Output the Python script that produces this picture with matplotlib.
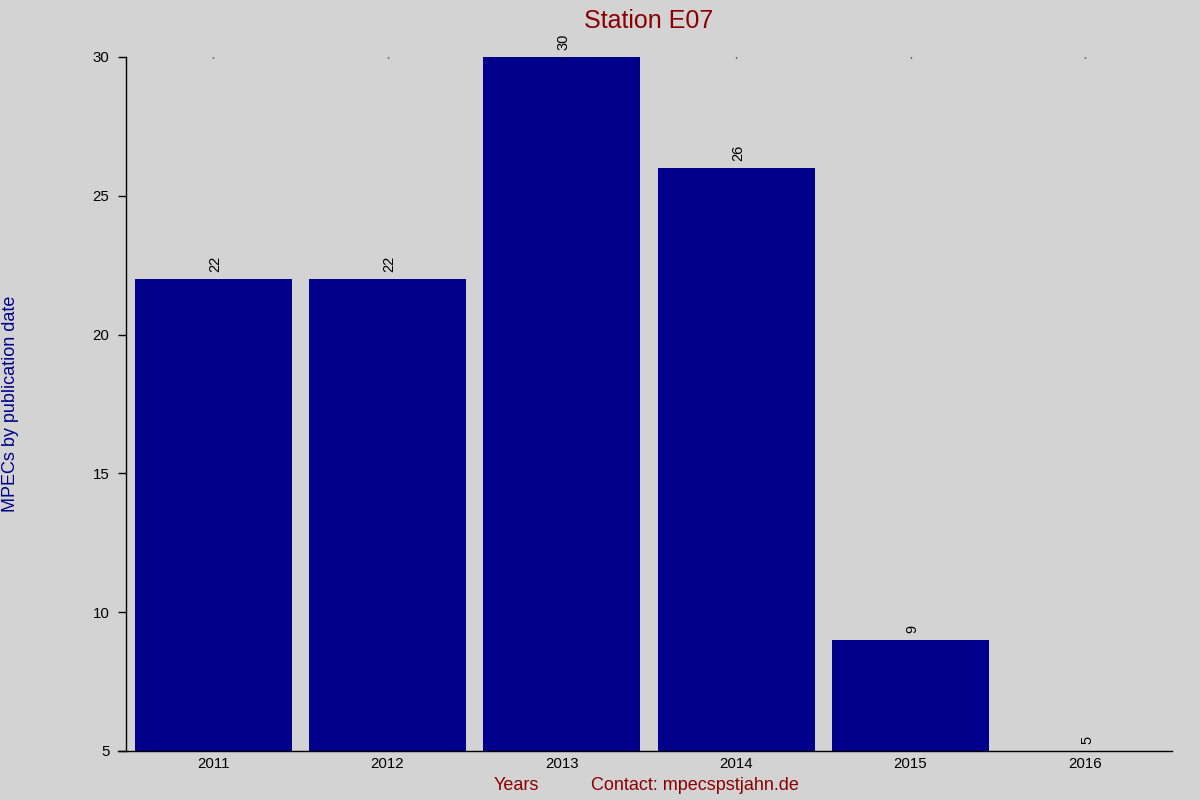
import numpy as np
import matplotlib
matplotlib.use('Agg')
import matplotlib.pyplot as plt

plt.rcParams['font.family'] = ['Liberation Sans', 'DejaVu Sans']

# data
years = ['2011', '2012', '2013', '2014', '2015', '2016']
mpecs = [22, 22, 30, 26, 9, 5]
yticks = [5, 10, 15, 20, 25, 30]

bg = '#d3d3d3'
fig = plt.figure(figsize=(12, 8), dpi=100, facecolor=bg)
ax = fig.add_axes([0.105, 0.06125, 0.8717, 0.8675])
ax.set_facecolor(bg)

x = np.arange(len(years))
# bars start at the lower axis limit
bottom = yticks[0]
heights = [v - bottom for v in mpecs]
ax.bar(x, heights, bottom=bottom, width=0.9, color='#00008b')

for xi, v in zip(x, mpecs):
    ax.annotate(str(v), (xi, v), xytext=(1.5, 5), textcoords='offset points',
                rotation=90, ha='center', va='bottom', fontsize=10.5)

ax.set_xlim(-0.5, len(years) - 0.5)
ax.set_ylim(yticks[0], yticks[-1])
ax.set_xticks(x)
ax.set_xticklabels(years)
ax.set_yticks(yticks)

for s in ['top', 'right']:
    ax.spines[s].set_visible(False)
ax.spines['left'].set_linewidth(1)
ax.spines['bottom'].set_linewidth(1)
ax.spines['bottom'].set_bounds(-0.5 - 8 / 174.5, len(years) - 0.5)

ax.tick_params(axis='x', bottom=False, top=True, length=1, width=1,
               labelsize=10.8, pad=4, direction='in')
ax.tick_params(axis='y', length=6, width=1, labelsize=10.8, pad=6)

ax.set_title('Station E07', color='#8b0000', fontsize=18, pad=21)

fig.text(11 / 1200, 1 - 404 / 800, 'MPECs by publication date', color='#00008b',
         fontsize=13, rotation=90, ha='center', va='center')
fig.text(494 / 1200, 1 - 786 / 800, 'Years', color='#8b0000', fontsize=13,
         ha='left', va='center')
fig.text(591 / 1200, 1 - 786 / 800, 'Contact: mpecspstjahn.de', color='#8b0000',
         fontsize=13, ha='left', va='center')

fig.savefig('out.png', dpi=100, facecolor=bg)
